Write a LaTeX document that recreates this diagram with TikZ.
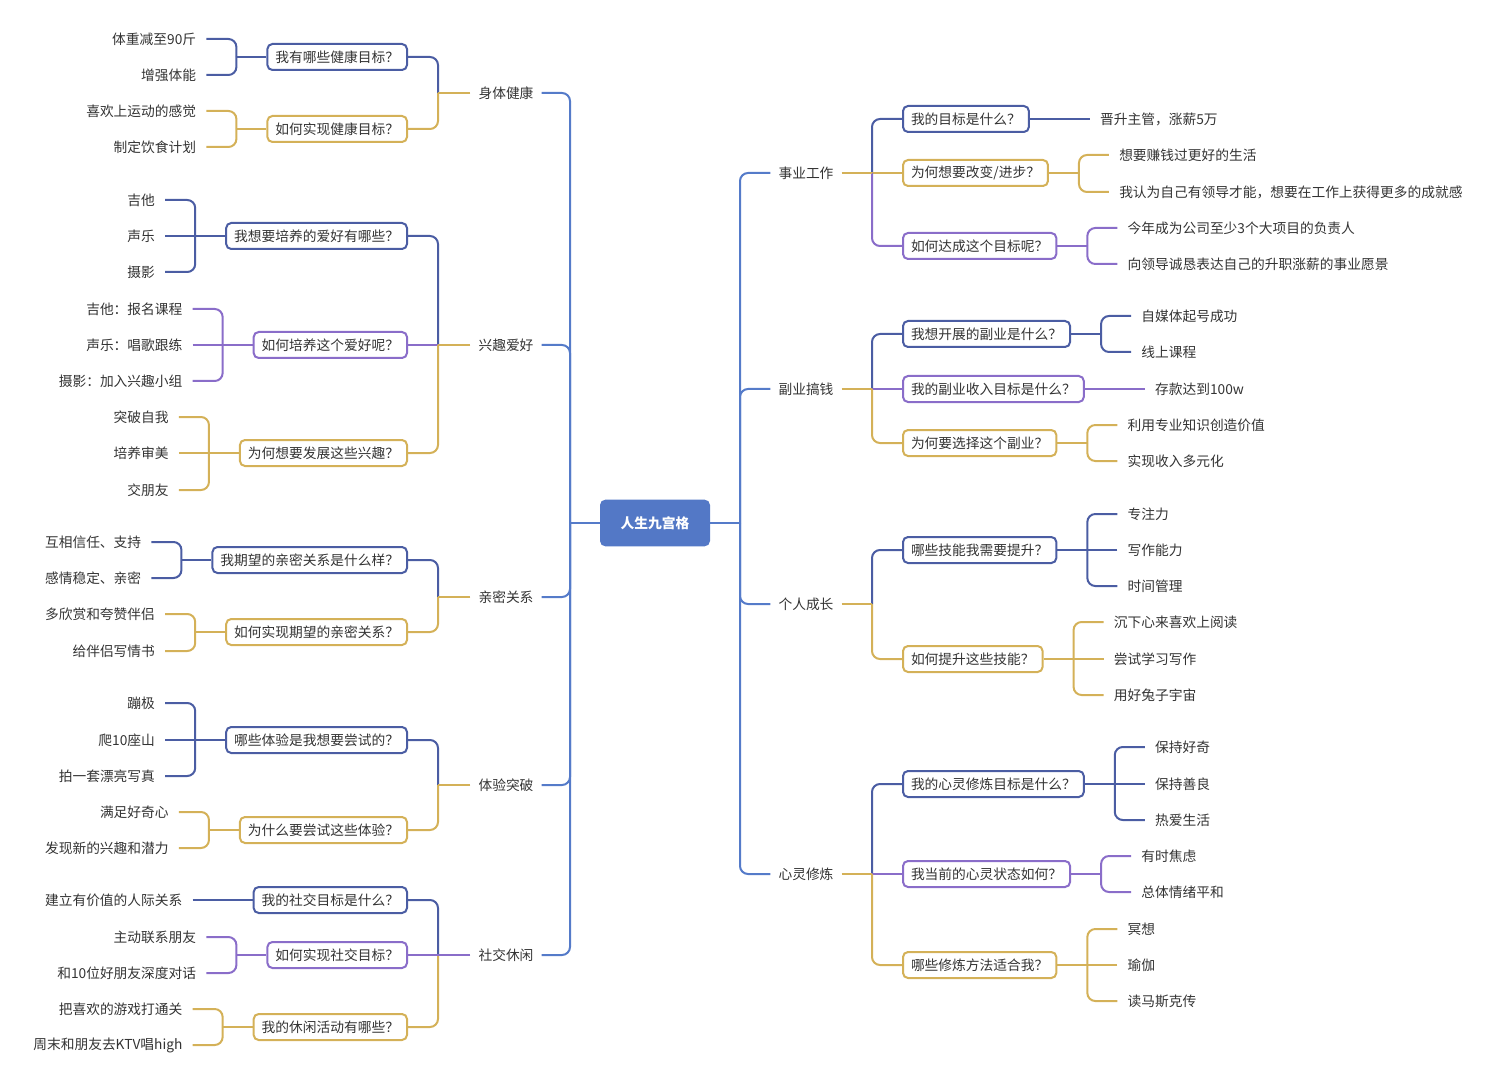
\documentclass[tikz,border=0pt]{standalone}
\usepackage{fontspec}
\setmainfont{Noto Sans CJK SC}
\usetikzlibrary{calc}
\definecolor{cnavy}{HTML}{4B5DA3}
\definecolor{cpurple}{HTML}{8A6DC9}
\definecolor{cgold}{HTML}{D4B158}
\definecolor{ctrunk}{HTML}{557BC9}
\definecolor{croot}{HTML}{5378C6}
\definecolor{ctext}{HTML}{333333}
% left question box: name, y, colour, text, parent, op
\newcommand\mkQL[6]{%
  \node[qbox=#3, anchor=east] (#1) at (408,#2) {#4};
  \coordinate (#1j) at ($(#1.west)+(-30,0)$);
  \draw[conn,#3] (#1j) -- (#1.west);
  \draw[conn,#3,rounded corners=6pt] (#5j) #6 (#1.east);
}
% right question box
\newcommand\mkQR[6]{%
  \node[qbox=#3, anchor=west] (#1) at (902,#2) {#4};
  \coordinate (#1j) at ($(#1.east)+(30,0)$);
  \draw[conn,#3] (#1.east) -- (#1j);
  \draw[conn,#3,rounded corners=6pt] (#5j) #6 (#1.west);
}
% left leaf: name, box, dy, op, colour, text
\newcommand\mkLL[6]{%
  \node[leaf, anchor=east] (#1) at ($(#2.west)+(-60,#3)$) {#6};
  \draw[conn,#5,rounded corners=6pt] (#1.east) #4 (#2j);
}
% right leaf
\newcommand\mkLR[6]{%
  \node[leaf, anchor=west] (#1) at ($(#2.east)+(60,#3)$) {#6};
  \draw[conn,#5,rounded corners=6pt] (#1.west) #4 (#2j);
}
\begin{document}
\begin{tikzpicture}[x=0.75pt,y=-0.75pt,
  font=\fontsize{10.3}{12}\selectfont,
  conn/.style={line width=1.5pt},
  qbox/.style={draw=#1, line width=1.5pt, rounded corners=3.75pt, fill=white,
    inner xsep=6pt, inner ysep=0pt, minimum height=19.5pt, text=ctext},
  leaf/.style={inner xsep=7.5pt, inner ysep=2pt, text=ctext},
  lone/.style={inner xsep=6pt, inner ysep=2pt, text=ctext},
  rootbox/.style={fill=croot, rounded corners=4pt, minimum width=82.5pt,
    minimum height=35pt, text=white, font=\fontsize{10.3}{12}\selectfont\bfseries}]
\useasboundingbox (0,0) rectangle (1500,1084);

% root and trunks
\node[rootbox] (root) at (655,523) {人生九宫格};
\coordinate (tl) at (570,523);
\coordinate (tr) at (740,523);

% left level-1
\node[lone] (A) at (506,93) {身体健康};
\node[lone] (B) at (506,345) {兴趣爱好};
\node[lone] (C) at (506,597) {亲密关系};
\node[lone] (D) at (506,785) {体验突破};
\node[lone] (E) at (506,955) {社交休闲};
\foreach \n in {A,B,C,D,E}{\draw[conn,ctrunk,rounded corners=6pt] (\n.east) -| (tl);}
\draw[conn,ctrunk] (tl) -- (root.west);
\coordinate (Aj) at (438,93);
\coordinate (Bj) at (438,345);
\coordinate (Cj) at (438,597);
\coordinate (Dj) at (438,785);
\coordinate (Ej) at (438,955);

% right level-1
\node[lone] (F) at (806,173) {事业工作};
\node[lone] (G) at (806,389) {副业搞钱};
\node[lone] (H) at (806,604) {个人成长};
\node[lone] (I) at (806,874) {心灵修炼};
\foreach \n in {F,G,H,I}{\draw[conn,ctrunk,rounded corners=6pt] (\n.west) -| (tr);}
\draw[conn,ctrunk] (tr) -- (root.east);
\coordinate (Fj) at (872,173);
\coordinate (Gj) at (872,389);
\coordinate (Hj) at (872,604);
\coordinate (Ij) at (872,874);

% ---- 身体健康
\mkQL{a1}{57}{cnavy}{我有哪些健康目标？}{A}{|-}
\mkLL{a11}{a1}{-18}{-|}{cnavy}{体重减至90斤}
\mkLL{a12}{a1}{18}{-|}{cnavy}{增强体能}
\mkQL{a2}{129}{cgold}{如何实现健康目标？}{A}{|-}
\mkLL{a21}{a2}{-18}{-|}{cgold}{喜欢上运动的感觉}
\mkLL{a22}{a2}{18}{-|}{cgold}{制定饮食计划}
\draw[conn,cgold] (A.west) -- (Aj);

% ---- 兴趣爱好
\mkQL{b1}{236}{cnavy}{我想要培养的爱好有哪些？}{B}{|-}
\mkLL{b11}{b1}{-36}{-|}{cnavy}{吉他}
\mkLL{b12}{b1}{0}{--}{cnavy}{声乐}
\mkLL{b13}{b1}{36}{-|}{cnavy}{摄影}
\mkQL{b2}{345}{cpurple}{如何培养这个爱好呢？}{B}{--}
\mkLL{b21}{b2}{-36}{-|}{cpurple}{吉他：报名课程}
\mkLL{b22}{b2}{0}{--}{cpurple}{声乐：唱歌跟练}
\mkLL{b23}{b2}{36}{-|}{cpurple}{摄影：加入兴趣小组}
\mkQL{b3}{453}{cgold}{为何想要发展这些兴趣？}{B}{|-}
\mkLL{b31}{b3}{-36}{-|}{cgold}{突破自我}
\mkLL{b32}{b3}{0}{--}{cgold}{培养审美}
\mkLL{b33}{b3}{37}{-|}{cgold}{交朋友}
\draw[conn,cgold] (B.west) -- (Bj);

% ---- 亲密关系
\mkQL{c1}{560}{cnavy}{我期望的亲密关系是什么样？}{C}{|-}
\mkLL{c11}{c1}{-18}{-|}{cnavy}{互相信任、支持}
\mkLL{c12}{c1}{18}{-|}{cnavy}{感情稳定、亲密}
\mkQL{c2}{632}{cgold}{如何实现期望的亲密关系？}{C}{|-}
\mkLL{c21}{c2}{-18}{-|}{cgold}{多欣赏和夸赞伴侣}
\mkLL{c22}{c2}{19}{-|}{cgold}{给伴侣写情书}
\draw[conn,cgold] (C.west) -- (Cj);

% ---- 体验突破
\mkQL{d1}{740}{cnavy}{哪些体验是我想要尝试的？}{D}{|-}
\mkLL{d11}{d1}{-37}{-|}{cnavy}{蹦极}
\mkLL{d12}{d1}{0}{--}{cnavy}{爬10座山}
\mkLL{d13}{d1}{36}{-|}{cnavy}{拍一套漂亮写真}
\mkQL{d2}{830}{cgold}{为什么要尝试这些体验？}{D}{|-}
\mkLL{d21}{d2}{-18}{-|}{cgold}{满足好奇心}
\mkLL{d22}{d2}{18}{-|}{cgold}{发现新的兴趣和潜力}
\draw[conn,cgold] (D.west) -- (Dj);

% ---- 社交休闲
\mkQL{e1}{900}{cnavy}{我的社交目标是什么？}{E}{|-}
\mkLL{e11}{e1}{0}{--}{cnavy}{建立有价值的人际关系}
\mkQL{e3}{1027}{cgold}{我的休闲活动有哪些？}{E}{|-}
\mkLL{e31}{e3}{-18}{-|}{cgold}{把喜欢的游戏打通关}
\mkLL{e32}{e3}{18}{-|}{cgold}{周末和朋友去KTV唱high}
\mkQL{e2}{955}{cpurple}{如何实现社交目标？}{E}{--}
\mkLL{e21}{e2}{-18}{-|}{cpurple}{主动联系朋友}
\mkLL{e22}{e2}{18}{-|}{cpurple}{和10位好朋友深度对话}
\draw[conn,cpurple] (E.west) -- (Ej);

% ---- 事业工作
\mkQR{f1}{119}{cnavy}{我的目标是什么？}{F}{|-}
\mkLR{f11}{f1}{0}{--}{cnavy}{晋升主管，涨薪5万}
\mkQR{f2}{173}{cgold}{为何想要改变/进步？}{F}{--}
\mkLR{f21}{f2}{-18}{-|}{cgold}{想要赚钱过更好的生活}
\mkLR{f22}{f2}{19}{-|}{cgold}{我认为自己有领导才能，想要在工作上获得更多的成就感}
\mkQR{f3}{246}{cpurple}{如何达成这个目标呢？}{F}{|-}
\mkLR{f31}{f3}{-18}{-|}{cpurple}{今年成为公司至少3个大项目的负责人}
\mkLR{f32}{f3}{18}{-|}{cpurple}{向领导诚恳表达自己的升职涨薪的事业愿景}
\draw[conn,cgold] (F.east) -- (Fj);

% ---- 副业搞钱
\mkQR{g1}{334}{cnavy}{我想开展的副业是什么？}{G}{|-}
\mkLR{g11}{g1}{-18}{-|}{cnavy}{自媒体起号成功}
\mkLR{g12}{g1}{18}{-|}{cnavy}{线上课程}
\mkQR{g2}{389}{cpurple}{我的副业收入目标是什么？}{G}{--}
\mkLR{g21}{g2}{0}{--}{cpurple}{存款达到100w}
\mkQR{g3}{443}{cgold}{为何要选择这个副业？}{G}{|-}
\mkLR{g31}{g3}{-18}{-|}{cgold}{利用专业知识创造价值}
\mkLR{g32}{g3}{18}{-|}{cgold}{实现收入多元化}
\draw[conn,cgold] (G.east) -- (Gj);

% ---- 个人成长
\mkQR{h1}{550}{cnavy}{哪些技能我需要提升？}{H}{|-}
\mkLR{h11}{h1}{-36}{-|}{cnavy}{专注力}
\mkLR{h12}{h1}{0}{--}{cnavy}{写作能力}
\mkLR{h13}{h1}{36}{-|}{cnavy}{时间管理}
\mkQR{h2}{659}{cgold}{如何提升这些技能？}{H}{|-}
\mkLR{h21}{h2}{-37}{-|}{cgold}{沉下心来喜欢上阅读}
\mkLR{h22}{h2}{0}{--}{cgold}{尝试学习写作}
\mkLR{h23}{h2}{36}{-|}{cgold}{用好兔子宇宙}
\draw[conn,cgold] (H.east) -- (Hj);

% ---- 心灵修炼
\mkQR{i1}{784}{cnavy}{我的心灵修炼目标是什么？}{I}{|-}
\mkLR{i11}{i1}{-37}{-|}{cnavy}{保持好奇}
\mkLR{i12}{i1}{0}{--}{cnavy}{保持善良}
\mkLR{i13}{i1}{36}{-|}{cnavy}{热爱生活}
\mkQR{i2}{874}{cpurple}{我当前的心灵状态如何？}{I}{--}
\mkLR{i21}{i2}{-18}{-|}{cpurple}{有时焦虑}
\mkLR{i22}{i2}{18}{-|}{cpurple}{总体情绪平和}
\mkQR{i3}{965}{cgold}{哪些修炼方法适合我？}{I}{|-}
\mkLR{i31}{i3}{-36}{-|}{cgold}{冥想}
\mkLR{i32}{i3}{0}{--}{cgold}{瑜伽}
\mkLR{i33}{i3}{36}{-|}{cgold}{读马斯克传}
\draw[conn,cgold] (I.east) -- (Ij);
\end{tikzpicture}
\end{document}
